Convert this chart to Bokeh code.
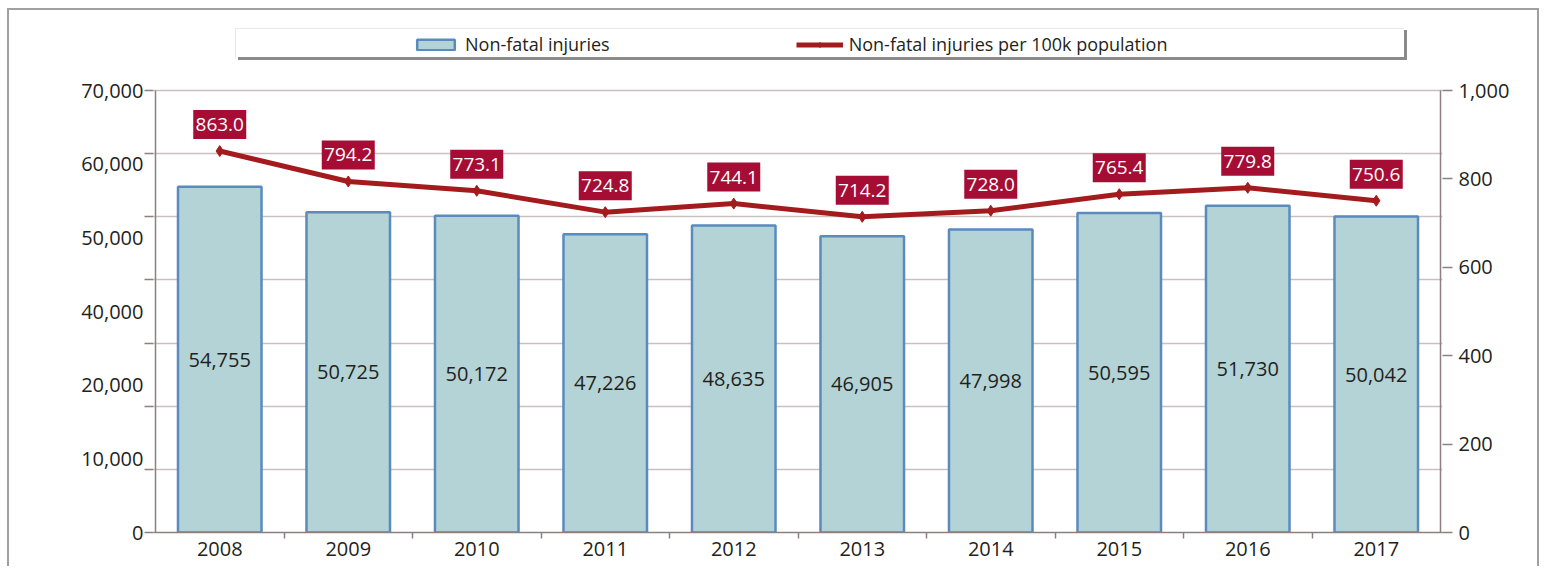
from bokeh.plotting import figure
from bokeh.models import (Range1d, LinearAxis, FixedTicker, NumeralTickFormatter,
                          Legend, LegendItem, ColumnDataSource)
from bokeh.core.properties import value
from bokeh.embed import file_html
from bokeh.resources import INLINE

# ---- data ----
years = ["2008", "2009", "2010", "2011", "2012", "2013", "2014", "2015", "2016", "2017"]
injuries = [54755, 50725, 50172, 47226, 48635, 46905, 47998, 50595, 51730, 50042]
rate_per_100k = [863.0, 794.2, 773.1, 724.8, 744.1, 714.2, 728.0, 765.4, 779.8, 750.6]
left_tick_labels = ["0", "10,000", "20,000", "40,000", "50,000", "60,000", "70,000"]
left_max = 70000
grid_values = [0, 10000, 20000, 30000, 40000, 50000, 60000, 70000]
right_ticks = [0, 200, 400, 600, 800, 1000]
right_max = 1000

FONT = "Open Sans"
TXT = "#231f20"
AXIS = "#8c8080"
GRID = "#cbbfbf"
RED_LINE = "#a41b1e"
RED_BOX = "#a50d34"
BAR_FILL = "#b3d3d6"
BAR_LINE = "#5a8bbf"

W, H = 1541, 566
FL, FR, FT, FB = 155, 1440, 90, 532   # axis box edges in canvas px
TOP = 10                              # frame reaches up here so the legend is inside it
EXT = 2                               # px of frame beyond each side axis
n = len(years)
plot_h = FB - FT
k_top = (FB - TOP) / plot_h           # range stretch factor to leave room for legend
x_pad = EXT * n / (FR - FL)
px = right_max / plot_h               # rate units per screen px

xc = [i + 0.5 for i in range(n)]
src = ColumnDataSource(dict(
    x=xc,
    inj=injuries,
    inj_mid=[v / 2 for v in injuries],
    inj_lbl=[f"{v:,}" for v in injuries],
    rate=rate_per_100k,
    rate_box=[v + 26.5 * px for v in rate_per_100k],
    rate_lbl=[f"{v:.1f}" for v in rate_per_100k],
))

# decorative lines (outer frame, legend box shadow) painted as CSS background
deco = [
    ("#a0a0a0", 7, 8, 1532, 2),
    ("#a0a0a0", 7, 8, 2, H),
    ("#a0a0a0", 1537, 8, 2, H),
    ("#e8e8e8", 235, 28, 1169, 1),
    ("#e8e8e8", 235, 28, 1, 30),
    ("#8a8a8a", 238, 57, 1169, 3),
    ("#8a8a8a", 1404, 30, 3, 30),
]
styles = {
    "background-color": "white",
    "background-image": ", ".join(f"linear-gradient({c}, {c})" for c, *_ in deco),
    "background-position": ", ".join(f"{x}px {y}px" for _, x, y, _w, _h in deco),
    "background-size": ", ".join(f"{w}px {h}px" for *_, w, h in deco),
    "background-repeat": "no-repeat",
}

p = figure(width=W, height=H, x_range=Range1d(-x_pad, n + x_pad),
           y_range=Range1d(0, left_max * k_top),
           output_backend="svg", toolbar_location=None,
           min_border_left=FL - EXT, min_border_right=W - FR - EXT,
           min_border_top=TOP, min_border_bottom=H - FB)
p.styles = styles
p.extra_y_ranges = {"rate": Range1d(0, right_max * k_top)}
p.outline_line_color = None
p.background_fill_alpha = 0
p.border_fill_alpha = 0

# grid
p.xgrid.visible = False
p.ygrid.ticker = FixedTicker(ticks=grid_values)
p.ygrid.grid_line_color = GRID
p.ygrid.grid_line_width = 1.5

# vertical axis lines (only as tall as the value range)
p.segment(x0=[0, n], y0=[0, 0], x1=[0, n], y1=[left_max, left_max],
          line_color=AXIS, line_width=1.5)

# left axis (labels as printed in the original)
lt = [round(i * left_max / (len(left_tick_labels) - 1)) for i in range(len(left_tick_labels))]
ya = p.yaxis[0]
ya.ticker = FixedTicker(ticks=lt, minor_ticks=grid_values)
ya.major_label_overrides = {t: l for t, l in zip(lt, left_tick_labels)}
ya.axis_line_color = None
ya.major_tick_out = 0
ya.major_tick_in = 0
ya.minor_tick_out = 9
ya.minor_tick_in = 0
ya.minor_tick_line_color = AXIS
ya.minor_tick_line_width = 1.5
ya.major_label_standoff = 1
ya.major_label_text_font = FONT
ya.major_label_text_font_size = "20px"
ya.major_label_text_color = TXT

# bottom axis
xa = p.xaxis[0]
xa.ticker = FixedTicker(ticks=xc, minor_ticks=list(range(1, n)))
xa.major_label_overrides = {x: y for x, y in zip(xc, years)}
xa.axis_line_color = AXIS
xa.axis_line_width = 1.5
xa.major_tick_out = 0
xa.major_tick_in = 0
xa.minor_tick_out = 6
xa.minor_tick_in = 0
xa.minor_tick_line_color = AXIS
xa.minor_tick_line_width = 1.5
xa.major_label_standoff = 3
xa.major_label_text_font = FONT
xa.major_label_text_font_size = "20px"
xa.major_label_text_color = TXT

# right axis
ra = LinearAxis(y_range_name="rate", ticker=FixedTicker(ticks=right_ticks),
                formatter=NumeralTickFormatter(format="0,0"))
ra.axis_line_color = None
ra.major_tick_out = 10
ra.major_tick_in = 0
ra.major_tick_line_color = AXIS
ra.major_tick_line_width = 1.5
ra.minor_tick_out = 0
ra.minor_tick_in = 0
ra.major_label_standoff = 6
ra.major_label_text_font = FONT
ra.major_label_text_font_size = "20px"
ra.major_label_text_color = TXT
p.add_layout(ra, "right")

# bars
bars = p.vbar(x="x", top="inj", width=0.65, source=src,
              fill_color=BAR_FILL, line_color=BAR_LINE, line_width=2.5)
p.text(x="x", y="inj_mid", text="inj_lbl", source=src,
       text_align="center", text_baseline="middle",
       text_font=value(FONT), text_font_size="20px", text_color=TXT)

# line
ln = p.line(x="x", y="rate", source=src, y_range_name="rate",
            line_color=RED_LINE, line_width=5)
mk = p.scatter(x="x", y="rate", source=src, y_range_name="rate", marker="diamond",
               size=11, fill_color=RED_LINE, line_color=RED_LINE)
p.rect(x="x", y="rate_box", width=53, height=29, width_units="screen", height_units="screen",
       source=src, y_range_name="rate", fill_color=RED_BOX, line_color=None)
p.text(x="x", y="rate_box", text="rate_lbl", source=src, y_range_name="rate",
       text_align="center", text_baseline="middle",
       text_font=value(FONT), text_font_size="19px", text_color="white")

frame_left = FL - EXT
legend = Legend(items=[LegendItem(label="Non-fatal injuries", renderers=[bars]),
                       LegendItem(label="Non-fatal injuries per 100k population", renderers=[ln, mk])],
                orientation="horizontal", location=(422 - 10 - frame_left, FB - 56),
                glyph_width=47, glyph_height=13, label_standoff=6, spacing=186,
                padding=10, margin=0, border_line_color=None, background_fill_alpha=0,
                label_text_font=FONT, label_text_font_size="18px", label_text_color=TXT)
p.add_layout(legend)

open("out.html", "w").write(file_html(p, INLINE))
